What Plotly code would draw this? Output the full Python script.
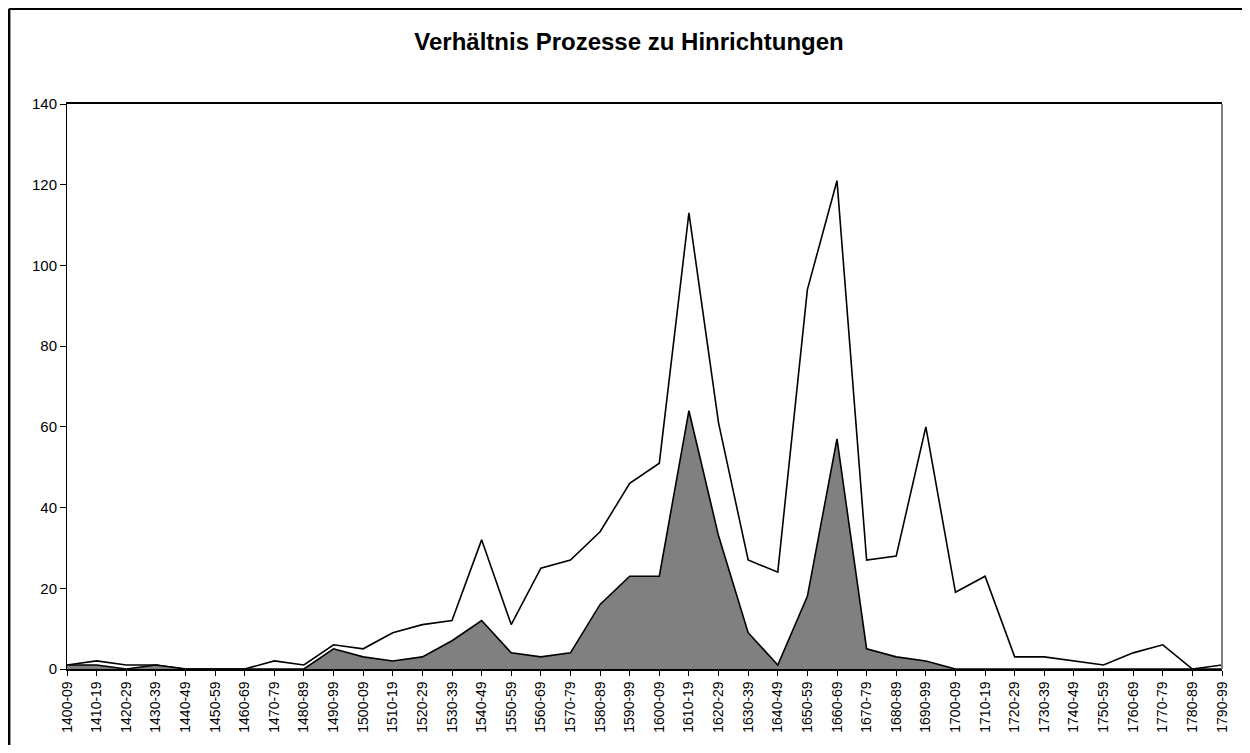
import plotly.graph_objects as go

categories = ["1400-09", "1410-19", "1420-29", "1430-39", "1440-49", "1450-59", "1460-69", "1470-79",
              "1480-89", "1490-99", "1500-09", "1510-19", "1520-29", "1530-39", "1540-49", "1550-59",
              "1560-69", "1570-79", "1580-89", "1590-99", "1600-09", "1610-19", "1620-29", "1630-39",
              "1640-49", "1650-59", "1660-69", "1670-79", "1680-89", "1690-99", "1700-09", "1710-19",
              "1720-29", "1730-39", "1740-49", "1750-59", "1760-69", "1770-79", "1780-89", "1790-99"]

prozesse = [1, 2, 1, 1, 0, 0, 0, 2, 1, 6, 5, 9, 11, 12, 32, 11, 25, 27, 34, 46, 51, 113, 61, 27,
            24, 94, 121, 27, 28, 60, 19, 23, 3, 3, 2, 1, 4, 6, 0, 1]

hinrichtungen = [1, 1, 0, 1, 0, 0, 0, 0, 0, 5, 3, 2, 3, 7, 12, 4, 3, 4, 16, 23, 23, 64, 33, 9,
                 1, 18, 57, 5, 3, 2, 0, 0, 0, 0, 0, 0, 0, 0, 0, 0]

title_text = "Verhältnis Prozesse zu Hinrichtungen"

fig = go.Figure()
fig.add_trace(go.Scatter(x=categories, y=prozesse, name="Prozesse", mode="lines",
                         fill="tozeroy", fillcolor="white",
                         line=dict(color="black", width=1.6)))
fig.add_trace(go.Scatter(x=categories, y=hinrichtungen, name="Hinrichtungen", mode="lines",
                         fill="tozeroy", fillcolor="#808080",
                         line=dict(color="black", width=1.6)))

# the page body has an 8px margin; figure origin sits at screen (8, 8)
OFF = 8
W, H = 1250 - 2 * OFF, 753 - 2 * OFF
L = 67 - OFF
T = 104 - OFF
R = W - (1225 - OFF)
B = H - (674 - OFF)
pw = W - L - R
ph = H - T - B

def px_x(px):
    return (px - OFF - L) / pw

def px_y(py):
    return (H - B - (py - OFF)) / ph

fig.update_layout(
    width=W, height=H,
    margin=dict(l=L, r=R, t=T, b=B),
    paper_bgcolor="white", plot_bgcolor="white",
    showlegend=False,
    font=dict(family="Liberation Sans, Arial, sans-serif", color="black"),
    title=dict(text="<b>" + title_text + "</b>", x=(629 - OFF) / W, xanchor="center",
               y=1 - (42 - OFF) / H, yanchor="middle", font=dict(size=24, color="black")),
    xaxis=dict(type="category", range=[0, len(categories) - 1],
               showline=True, linecolor="black", linewidth=1.5, mirror=True,
               ticks="outside", ticklen=5, tickcolor="black", tickangle=-90,
               tickfont=dict(size=14), showgrid=False, zeroline=False,
               categoryorder="array", categoryarray=categories),
    yaxis=dict(range=[0, 140], dtick=20, showline=True, linecolor="black", linewidth=1,
               mirror=False, ticks="outside", ticklen=6, tickcolor="black",
               tickfont=dict(size=15), showgrid=False, zeroline=False),
    shapes=[
        dict(type="line", xref="paper", yref="paper", x0=1, x1=1, y0=0, y1=1,
             line=dict(color="#7f7f7f", width=2)),
        dict(type="line", xref="paper", yref="paper", x0=px_x(9), x1=px_x(1260),
             y0=px_y(8), y1=px_y(8), line=dict(color="black", width=2.5)),
        dict(type="line", xref="paper", yref="paper", x0=px_x(9), x1=px_x(9),
             y0=px_y(8), y1=px_y(770), line=dict(color="black", width=2.5)),
    ],
)

fig.write_html("out.html")
